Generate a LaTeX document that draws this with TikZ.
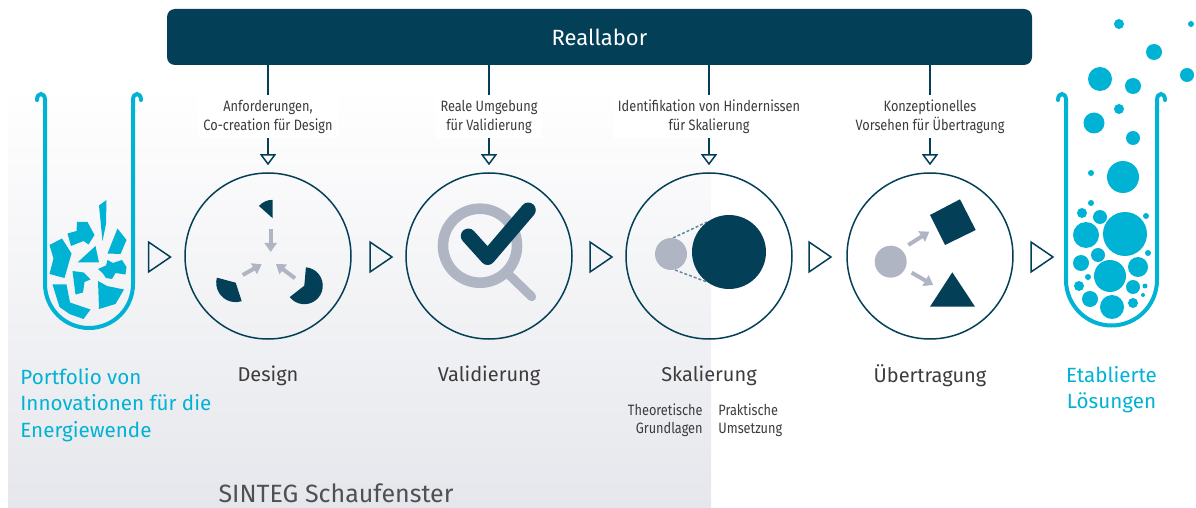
\documentclass[tikz,border=0pt]{standalone}
\usepackage{fontspec}
\setmainfont{Fira Sans}
\newfontfamily\narrowfont{Fira Sans}[FakeStretch=0.85]
\usetikzlibrary{arrows.meta}
\definecolor{navy}{RGB}{4,63,88}
\definecolor{aqua}{RGB}{0,178,212}
\definecolor{slate}{RGB}{176,181,196}
\definecolor{ink}{RGB}{60,60,60}
\definecolor{haze}{RGB}{230,231,236}
\tikzset{
  stage/.style={circle, draw=navy, line width=0.75pt, minimum size=83pt, inner sep=0pt},
  feed/.style={navy, line width=0.75pt, -{Triangle[open, length=5.5pt, width=8pt]}, shorten >=3.5pt},
  needtext/.style={fill=white, inner sep=2.5pt, align=center, text=ink, font=\narrowfont\fontsize{7.5}{9.5}\selectfont},
  stagename/.style={text=ink, font=\fontsize{10}{13}\selectfont},
  aquatext/.style={text=aqua, font=\fontsize{10.3}{13.25}\selectfont, inner sep=0pt},
  subtext/.style={text=ink, inner sep=0pt, font=\narrowfont\fontsize{7.5}{9}\selectfont},
  moveArrow/.style={slate, line width=2pt, -{Triangle[length=4.5pt, width=6pt]}},
  tube/.style={aqua, line width=2pt, line cap=round},
  fwdtip/.pic={\draw[navy, line width=0.75pt] (-11,-15) -- (11,0) -- (-11,15) -- cycle;}
}
\begin{document}
\begin{tikzpicture}[x=0.5pt, y=-0.5pt]
  \useasboundingbox (0,0) rectangle (1196,508);
  \shade[top color=white, bottom color=haze] (8,85) rectangle (711,508);

  % tube with fragments
  \draw[tube] (37,100) .. controls (37,92) and (45,92) .. (45,100) -- (45,284)
    arc[start angle=180, end angle=0, radius=44] -- (133,100)
    .. controls (133,92) and (141,92) .. (141,100);
  \fill[aqua] (99,205.5) -- (106.5,200) -- (106,224) -- (102.5,241) -- cycle;
  \fill[aqua] (67.5,233.5) -- (76.5,231) -- (77,222) -- (87.5,222) -- (94.5,235)
    -- (88.5,244.5) -- (83.5,241) -- (71,246) -- cycle;
  \fill[aqua] (117.5,228.5) -- (126.5,240) -- (120.5,254) -- (107.5,253.5) -- cycle;
  \fill[aqua] (49.5,245) -- (62,238.5) -- (71.5,253.5) -- (64.5,278) -- (49.5,274) -- (53.5,258.5) -- cycle;
  \fill[aqua] (77.5,262.5) -- (95.5,246) -- (99,262.5) -- cycle;
  \fill[aqua] (98,269) -- (106,265.5) -- (107.5,260) -- (113,263) -- (122,260) -- (126.5,267)
    -- (125.5,274.5) -- (115.5,273) -- (112,279) -- (106,278) -- (102.5,273) -- cycle;
  \fill[aqua] (72.5,271) -- (83.5,272.5) -- (90.5,279.5) -- (84.5,282) -- (83,292.5) -- (75.5,294.5) -- cycle;
  \fill[aqua] (52.5,284.5) -- (66.5,284.5) -- (70,302.5) -- (90.5,309.5) -- (83.5,319)
    -- (69.5,314) -- (59.5,307) -- cycle;
  \fill[aqua] (98,281) -- (107,286) -- (124,289.5) -- (115.5,304) -- (99,309) -- cycle;

  % tube with bubbles
  \draw[tube] (1058,100) .. controls (1058,92) and (1066,92) .. (1066,100) -- (1066,280)
    arc[start angle=180, end angle=0, radius=45.5] -- (1157,100)
    .. controls (1157,92) and (1165,92) .. (1165,100);
  \foreach \x/\y/\r in {1119/24/5, 1191/24/3, 1154/52/8, 1100/79/12, 1133/86/8, 1187/75/7,
      1119/109/5, 1094/123/10.5, 1133/138/7, 1123/177/16, 1091/173/3,
      1091/203/3, 1082/213/5, 1100/217/7, 1125/234/22, 1146/216/3, 1086/235/13,
      1098/255/7, 1148/253/3, 1081/263/8, 1110/276/16, 1138/267/10, 1088/277/3,
      1079/286/5, 1133/287/7, 1145/286/2.5, 1090/299/8, 1112/307/12, 1133/303/5, 1143/295/2}
    \fill[aqua] (\x,\y) circle[radius=\r];

  \node[stage] (design) at (268,256) {};
  \node[stage] (valid) at (489,256) {};
  \node[stage] (scale) at (709,256) {};
  \node[stage] (transfer) at (930,256) {};

  \node[fill=navy, rounded corners=4pt, minimum width=432.5pt, minimum height=28pt,
    text=white, font=\fontsize{11}{13}\selectfont] (lab) at (599.5,37) {Reallabor};
  \foreach \s in {design,valid,scale,transfer}
    \draw[feed] (lab.south -| \s.north) -- (\s.north);

  \node[needtext] (need1) at (268,116.5) {Anforderungen,\\Co-creation für Design};
  \node[needtext] (need2) at (489,116.5) {Reale Umgebung\\für Validierung};
  \node[needtext] (need3) at (709,116.5) {Identifikation von Hindernissen\\für Skalierung};
  \node[needtext] (need4) at (930,116.5) {Konzeptionelles\\Vorsehen für Übertragung};

  \foreach \x in {159.5,381,601,820,1042}
    \pic at (\x,257) {fwdtip};

  % design
  \fill[navy] (272.7,218.3) -- ++(-90:18.5) arc[start angle=-90, end angle=-138, radius=18.5] -- cycle;
  \fill[navy] (235.7,282.7) -- ++(-165:19.5) arc[start angle=-165, end angle=-288, radius=19.5] -- cycle;
  \fill[navy] (304.3,285.7) -- ++(142:18.5) arc[start angle=142, end angle=-85, radius=18.5] -- cycle;
  \draw[moveArrow] (270.7,229) -- (270.7,252);
  \draw[moveArrow] (242.7,275) -- (261.7,264.3);
  \draw[moveArrow] (295,278.3) -- (276,264);

  % validation
  \draw[slate, line width=5.3pt] (480,245.7) circle[radius=37];
  \draw[slate, line width=4.5pt, line cap=round] (509.7,275.4) -- (531.7,296.7);
  \draw[navy, line width=7.5pt, line cap=round, line join=round] (468.3,236) -- (487.7,257.5) -- (528.3,210);

  % scaling
  \draw[navy!60, line width=0.75pt, dash pattern=on 1.5pt off 1pt] (673,238) -- (707,222) (675,270) -- (707,282);
  \fill[slate] (671,254) circle[radius=16];
  \fill[navy] (729,252) circle[radius=37];

  % transfer
  \fill[slate] (890.7,261.7) circle[radius=16];
  \fill[navy] (930,215) -- (960,199.3) -- (975.7,230) -- (945,245) -- cycle;
  \fill[navy] (930,306.7) -- (975,306.7) -- (952.3,272.3) -- cycle;
  \draw[moveArrow] (908.3,245) -- (929.3,231.7);
  \draw[moveArrow] (911.7,272.7) -- (933.3,285);

  \node[stagename] (designname) at (268,376) {Design};
  \node[stagename] (validname) at (489,376) {Validierung};
  \node[stagename] (scalename) at (709,376) {Skalierung};
  \node[stagename] (transfername) at (930,376) {Übertragung};
  \node[subtext, anchor=east, align=right] (theory) at (703,420) {Theoretische\\Grundlagen};
  \node[subtext, anchor=west, align=left] (practice) at (718,420) {Praktische\\Umsetzung};

  \node[aquatext, anchor=west, align=left] (portfolio) at (20,405) {Portfolio von\\Innovationen für die\\Energiewende};
  \node[aquatext, align=center] (solutions) at (1111.5,389.5) {Etablierte\\Lösungen};
  \node[text=ink!90, font=\fontsize{12.5}{15}\selectfont] (showcase) at (336,493) {SINTEG Schaufenster};
\end{tikzpicture}
\end{document}
